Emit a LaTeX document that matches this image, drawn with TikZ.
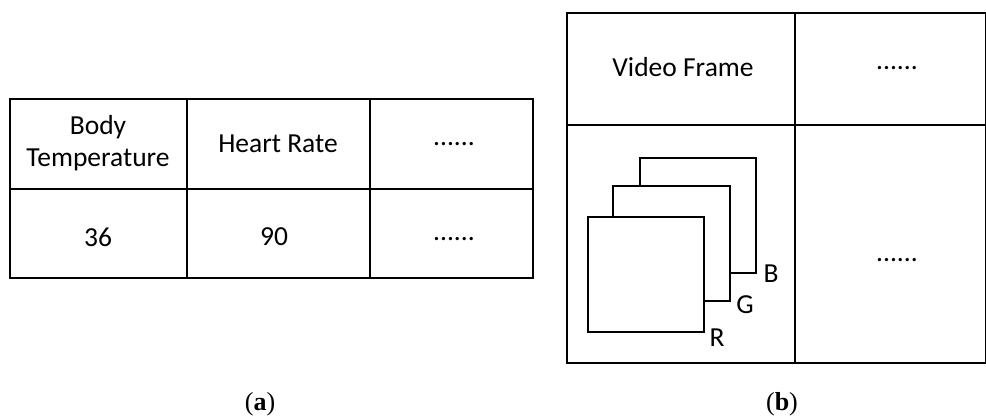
\documentclass[tikz,border=0pt]{standalone}
\usepackage{fontspec}
\setmainfont{Carlito}
\newfontfamily\capfont{Liberation Serif}

\begin{document}
\begin{tikzpicture}[x=1pt, y=-1pt, line width=1.6pt,
    cell/.style = {align=center, inner sep=0pt, font=\fontsize{27.5}{32}\selectfont},
    chan/.style = {draw, fill=white},
    caption/.style = {font=\capfont\fontsize{26}{30}\selectfont}]
        \useasboundingbox (0,0) rectangle (986,419);
        % table (a)
        \draw (10,99) rectangle (533,278);
        \draw (10,189) -- (533,189);
        \draw (187,99) -- (187,278);
        \draw (370,99) -- (370,278);
        \node[cell] (temp)  at (98,143)  {Body\\Temperature};
        \node[cell] (heart) at (278,144) {Heart Rate};
        \node[cell] (dotsa) at (454,144) {......};
        \node[cell] (t36)   at (98,237)  {36};
        \node[cell] (h90)   at (274,237) {90};
        \node[cell] (dotsb) at (454,239) {......};
        % table (b)
        \draw (567,13) rectangle (986,363);
        \draw (567,125) -- (986,125);
        \draw (795,13) -- (795,363);
        \node[cell] (video) at (683,67) {Video Frame};
        \node[cell] (dotsc) at (897,68) {......};
        \node[cell] (dotsd) at (897,260) {......};
        % RGB channels
        \draw[chan] (640,158) rectangle (756,273);
        \draw[chan] (613,186) rectangle (730,301);
        \draw[chan] (588,217) rectangle (704,332);
        \node[cell] (blue)  at (771,274) {B};
        \node[cell] (green) at (745,305) {G};
        \node[cell] (red)   at (717,338) {R};
        % captions
        \node[caption] (capa) at (260,404) {(\textbf{a})};
        \node[caption] (capb) at (782,404) {(\textbf{b})};
    \end{tikzpicture}
\end{document}
